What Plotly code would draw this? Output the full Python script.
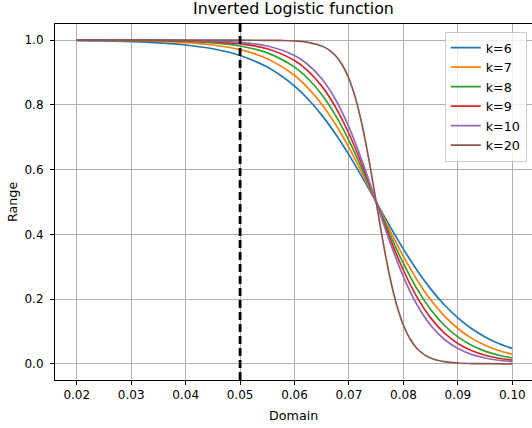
import plotly.graph_objects as go

# Domain sample points
x_common = [0.02, 0.025, 0.03, 0.035, 0.04, 0.045, 0.05, 0.055, 0.06, 0.0625, 0.065,
            0.0675, 0.07, 0.0725, 0.075, 0.0775, 0.08, 0.0825, 0.085, 0.0875, 0.09,
            0.0925, 0.095, 0.0975, 0.1]
y_k6 = [0.9986, 0.9975, 0.9955, 0.9918, 0.9852, 0.9734, 0.9526, 0.9168, 0.8581, 0.8176, 0.7685,
        0.7109, 0.6457, 0.5744, 0.5, 0.4256, 0.3543, 0.2891, 0.2315, 0.1824, 0.1419,
        0.1091, 0.0832, 0.0630, 0.0474]
y_k7 = [0.9995, 0.9991, 0.9982, 0.9963, 0.9926, 0.9852, 0.9707, 0.9427, 0.8909, 0.8520, 0.8022,
        0.7408, 0.6682, 0.5866, 0.5, 0.4134, 0.3318, 0.2592, 0.1978, 0.1480, 0.1091,
        0.0794, 0.0573, 0.0411, 0.0293]
y_k8 = [0.9998, 0.9997, 0.9993, 0.9983, 0.9963, 0.9918, 0.9820, 0.9608, 0.9168, 0.8808, 0.8320,
        0.7685, 0.6900, 0.5987, 0.5, 0.4013, 0.3100, 0.2315, 0.1680, 0.1192, 0.0832,
        0.0573, 0.0392, 0.0266, 0.0180]
y_k9 = [0.9999, 0.9999, 0.9997, 0.9993, 0.9982, 0.9955, 0.9890, 0.9734, 0.9370, 0.9047, 0.8581,
        0.7941, 0.7109, 0.6106, 0.5, 0.3894, 0.2891, 0.2059, 0.1419, 0.0953, 0.0630,
        0.0411, 0.0266, 0.0171, 0.0110]
y_k10 = [1.0, 0.9999, 0.9999, 0.9997, 0.9991, 0.9975, 0.9933, 0.9820, 0.9526, 0.9241, 0.8808,
         0.8176, 0.7311, 0.6225, 0.5, 0.3775, 0.2689, 0.1824, 0.1192, 0.0759, 0.0474,
         0.0293, 0.0180, 0.0110, 0.0067]
x_k20 = [0.02, 0.03, 0.04, 0.05, 0.055, 0.0575, 0.06, 0.0625, 0.065, 0.06625, 0.0675, 0.06875,
         0.07, 0.07125, 0.0725, 0.07375, 0.075, 0.07625, 0.0775, 0.07875, 0.08, 0.08125,
         0.0825, 0.08375, 0.085, 0.08625, 0.0875, 0.09, 0.0925, 0.095, 0.1]
y_k20 = [1.0, 1.0, 1.0, 0.99995, 0.9997, 0.9991, 0.9975, 0.9933, 0.9820, 0.9707, 0.9526, 0.9241,
         0.8808, 0.8176, 0.7311, 0.6225, 0.5, 0.3775, 0.2689, 0.1824, 0.1192, 0.0759,
         0.0474, 0.0293, 0.0180, 0.0110, 0.0067, 0.0025, 0.0009, 0.0003, 0.00005]

series_names = ["k=6", "k=7", "k=8", "k=9", "k=10", "k=20"]
series_x = [x_common, x_common, x_common, x_common, x_common, x_k20]
series_y = [y_k6, y_k7, y_k8, y_k9, y_k10, y_k20]
colors = ["#1f77b4", "#ff7f0e", "#2ca02c", "#d62728", "#9467bd", "#8c564b"]

threshold_x = 0.05
x_ticks = [0.02, 0.03, 0.04, 0.05, 0.06, 0.07, 0.08, 0.09, 0.10]
x_tick_text = ["0.02", "0.03", "0.04", "0.05", "0.06", "0.07", "0.08", "0.09", "0.10"]
y_ticks = [0.0, 0.2, 0.4, 0.6, 0.8, 1.0]
y_tick_text = ["0.0", "0.2", "0.4", "0.6", "0.8", "1.0"]

FONT = "DejaVu Sans"
fig = go.Figure()
for name, xs, ys, c in zip(series_names, series_x, series_y, colors):
    fig.add_trace(go.Scatter(x=xs, y=ys, mode="lines", name=name,
                             line=dict(color=c, width=1.7, shape="spline", smoothing=1.0)))

fig.add_shape(type="line", xref="x", yref="paper", x0=threshold_x, x1=threshold_x, y0=0, y1=1,
              line=dict(color="black", width=2.8, dash="8px,4px"), layer="above")

axis_common = dict(showgrid=True, gridcolor="#b0b0b0", gridwidth=0.9, zeroline=False,
                   ticks="outside", ticklen=4, tickwidth=1, tickcolor="black",
                   tickfont=dict(family=FONT, size=12, color="black"), showline=True,
                   linecolor="black", linewidth=1.1)
fig.update_xaxes(range=[0.016, 0.10362], tickvals=x_ticks, ticktext=x_tick_text,
                 mirror=True, **axis_common)
fig.update_yaxes(range=[-0.05, 1.05], tickvals=y_ticks, ticktext=y_tick_text,
                 mirror=False, ticklabelstandoff=4, **axis_common)

fig.update_layout(
    width=532, height=428, autosize=False,
    margin=dict(l=55, r=0, t=24, b=47.5, pad=0),
    plot_bgcolor="white", paper_bgcolor="white",
    font=dict(family=FONT, size=12, color="black"),
    showlegend=True,
    legend=dict(x=0.989, y=0.978, xanchor="right", yanchor="top",
                bgcolor="rgba(255,255,255,0.8)", bordercolor="#cccccc", borderwidth=1,
                font=dict(family=FONT, size=12.7, color="black"), tracegroupgap=0),
    annotations=[
        dict(text="Inverted Logistic function", xref="paper", yref="paper", x=0.5, y=1,
             xanchor="center", yanchor="bottom", yshift=4, showarrow=False,
             font=dict(family=FONT, size=15.8, color="black")),
        dict(text="Domain", xref="paper", yref="paper", x=0.5, y=-0.0996,
             xanchor="center", yanchor="middle", showarrow=False,
             font=dict(family=FONT, size=12.7, color="black")),
        dict(text="Range", xref="paper", yref="paper", x=-0.0901, y=0.5, textangle=-90,
             xanchor="center", yanchor="middle", showarrow=False,
             font=dict(family=FONT, size=12.7, color="black")),
    ],
)

fig.write_html("out.html")
